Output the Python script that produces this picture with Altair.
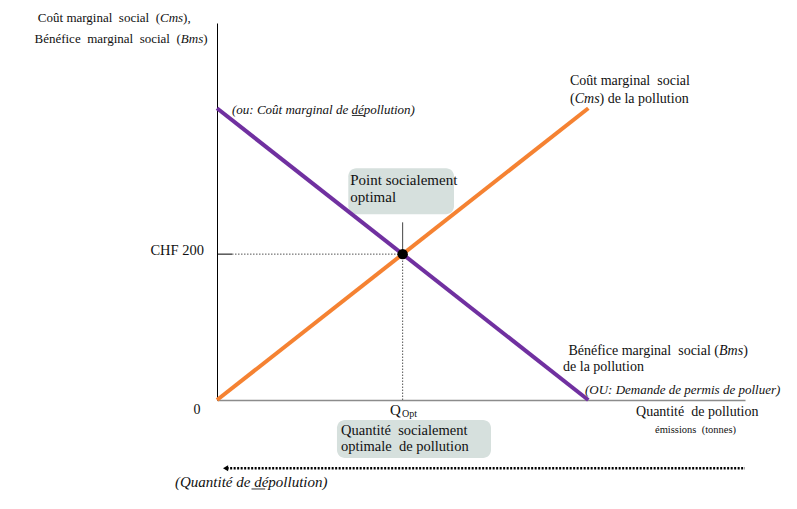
import altair as alt
import pandas as pd

# ---- data (economic model) ----
quantity = [0, 100]          # quantity of pollution (emissions)
cms_values = [0, 400]        # marginal social cost of pollution
bms_values = [400, 0]        # marginal social benefit of pollution
q_opt = 50
p_opt = 200
price_label = "CHF 200"

# ---- texts ----
ytitle_1 = ["Coût marginal\u00a0 social\u00a0 (", "Cms", "),"]
ytitle_2 = ["Bénéfice\u00a0 marginal\u00a0 social\u00a0 (", "Bms", ")"]
cms_label_1 = "Coût marginal\u00a0 social"
cms_label_2 = ["(", "Cms", ") de la pollution"]
cms_note = "(ou: Coût marginal de dépollution)"
bms_label_1 = ["Bénéfice marginal\u00a0 social (", "Bms", ")"]
bms_label_2 = "de la pollution"
bms_note = "(OU: Demande de permis de polluer)"
point_box = ["Point socialement", "optimal"]
qty_box = ["Quantité\u00a0 socialement", "optimale\u00a0 de pollution"]
xtitle_1 = "Quantité\u00a0 de pollution"
xtitle_2 = "émissions\u00a0 (tonnes)"
depol = "(Quantité de dépollution)"

FONT = "Liberation Serif"
ORANGE = "#f58232"
PURPLE = "#7030a0"
BOXC = "#d6e0dd"
INK = "#111111"

X_MAX = 142.2
Y_MAX = 516.9
xs = alt.Scale(domain=[0, X_MAX], nice=False, zero=False)
ys = alt.Scale(domain=[0, Y_MAX], nice=False, zero=False)


def ex(f="x"):
    return alt.X(f"{f}:Q", scale=xs, title=None)


def ey(f="y"):
    return alt.Y(f"{f}:Q", scale=ys, title=None)


def txt(s, x, y, size=14, italic=False, align="left", baseline="middle"):
    df = pd.DataFrame({"t": [s], "x": [x], "y": [y]})
    return alt.Chart(df).mark_text(
        font=FONT, fontSize=size, fontStyle="italic" if italic else "normal",
        align=align, baseline=baseline, color=INK
    ).encode(x=ex(), y=ey(), text="t:N")


def rule(x, x2, y, y2, color, width, dash=None):
    df = pd.DataFrame({"x": [x], "x2": [x2], "y": [y], "y2": [y2]})
    kw = dict(color=color, strokeWidth=width)
    if dash:
        kw["strokeDash"] = dash
    return alt.Chart(df).mark_rule(**kw).encode(
        x=ex(), x2=alt.X2("x2:Q"), y=ey(), y2=alt.Y2("y2:Q"))


def box(x, x2, y, y2):
    df = pd.DataFrame({"x": [x], "x2": [x2], "y": [y], "y2": [y2]})
    return alt.Chart(df).mark_rect(color=BOXC, cornerRadius=8).encode(
        x=ex(), x2=alt.X2("x2:Q"), y=ey(), y2=alt.Y2("y2:Q"))


curves = pd.DataFrame({
    "q": quantity + quantity,
    "v": cms_values + bms_values,
    "s": ["Cms"] * len(quantity) + ["Bms"] * len(quantity),
})

lines = alt.Chart(curves).mark_line(strokeWidth=4, strokeCap="butt").encode(
    x=ex("q"), y=ey("v"),
    color=alt.Color("s:N", scale=alt.Scale(domain=["Cms", "Bms"], range=[ORANGE, PURPLE]), legend=None),
    detail="s:N",
)

dot = alt.Chart(pd.DataFrame({"x": [q_opt], "y": [p_opt]})).mark_circle(
    size=110, color="#000", opacity=1).encode(x=ex(), y=ey())

arrow_head = alt.Chart(pd.DataFrame({"x": [2.3], "y": [-93.5]})).mark_point(
    shape="triangle-left", filled=True, size=35, color="#000", opacity=1).encode(x=ex(), y=ey())

layers = [
    box(35.36, 63.83, 317.7, 254.6),
    box(32.31, 73.79, -27.4, -79.5),
    rule(0, 4.04, p_opt, p_opt, "#000", 1),
    rule(4.04, q_opt, p_opt, p_opt, "#555", 1, [1.5, 1.5]),
    rule(q_opt, q_opt, 0, p_opt, "#555", 1, [1.5, 1.5]),
    rule(q_opt, q_opt, p_opt, 243.6, "#444", 1),
    rule(2.6, X_MAX, -93.5, -93.5, "#000", 2.5, [2, 1.5]),
    arrow_head,
    lines,
    dot,
    # y title
    txt(ytitle_1[0], -15.35, 523.4, 13, align="right"),
    txt(ytitle_1[1], -15.35, 523.4, 13, italic=True),
    txt(ytitle_1[2], -9.13, 523.4, 13),
    txt(ytitle_2[0], -9.75, 494.6, 13, align="right"),
    txt(ytitle_2[1], -9.75, 494.6, 13, italic=True),
    txt(ytitle_2[2], -3.72, 494.6, 13),
    # Cms label
    txt(cms_label_1, 95.07, 437.8, 14),
    txt(cms_label_2[0], 95.07, 412.3, 14),
    txt(cms_label_2[1], 96.34, 412.3, 14, italic=True),
    txt(cms_label_2[2], 103.04, 412.3, 14),
    txt(cms_note, 4.04, 397.6, 13, italic=True),
    rule(36.33, 39.64, 390.1, 390.1, "#333", 1),
    # Point box
    txt(point_box[0], 35.89, 301.0, 15),
    txt(point_box[1], 35.89, 279.0, 15),
    # price label and zero
    txt(price_label, -3.5, 204.3, 14.5, align="right"),
    txt("0", -5.39, -13.7, 14, align="center"),
    # Q opt
    txt("Q", 46.6, -13.7, 15),
    txt("Opt", 49.83, -19.2, 10),
    # quantity box
    txt(qty_box[0], 33.39, -42.5, 14.5),
    txt(qty_box[1], 33.39, -64.4, 14.5),
    # x title
    txt(xtitle_1, 112.85, -16.5, 14),
    txt(xtitle_2, 117.96, -41.1, 10.5),
    # Bms label
    txt(bms_label_1[0], 135.2, 67.2, 14, align="right"),
    txt(bms_label_1[1], 135.2, 67.2, 14, italic=True),
    txt(bms_label_1[2], 141.7, 67.2, 14),
    txt(bms_label_2, 93.19, 45.2, 14),
    txt(bms_note, 99.11, 13.7, 13, italic=True),
    # depollution
    txt(depol, -11.31, -112.4, 15, italic=True),
    rule(9.29, 12.98, -122, -122, "#333", 1),
]

chart = alt.layer(*layers).properties(
    width=528, height=377,
    autosize=alt.AutoSizeParams(type="none"),
    padding={"left": 209, "top": 15, "right": 44, "bottom": 95},
).configure_view(stroke=None).configure_axis(
    domain=True, ticks=False, labels=False, grid=False
).configure_axisX(domainColor="#8c8c8c", domainWidth=1.5).configure_axisY(
    domainColor="#000000", domainWidth=1)

chart.save("out.html", embed_options={"renderer": "svg", "actions": False})
